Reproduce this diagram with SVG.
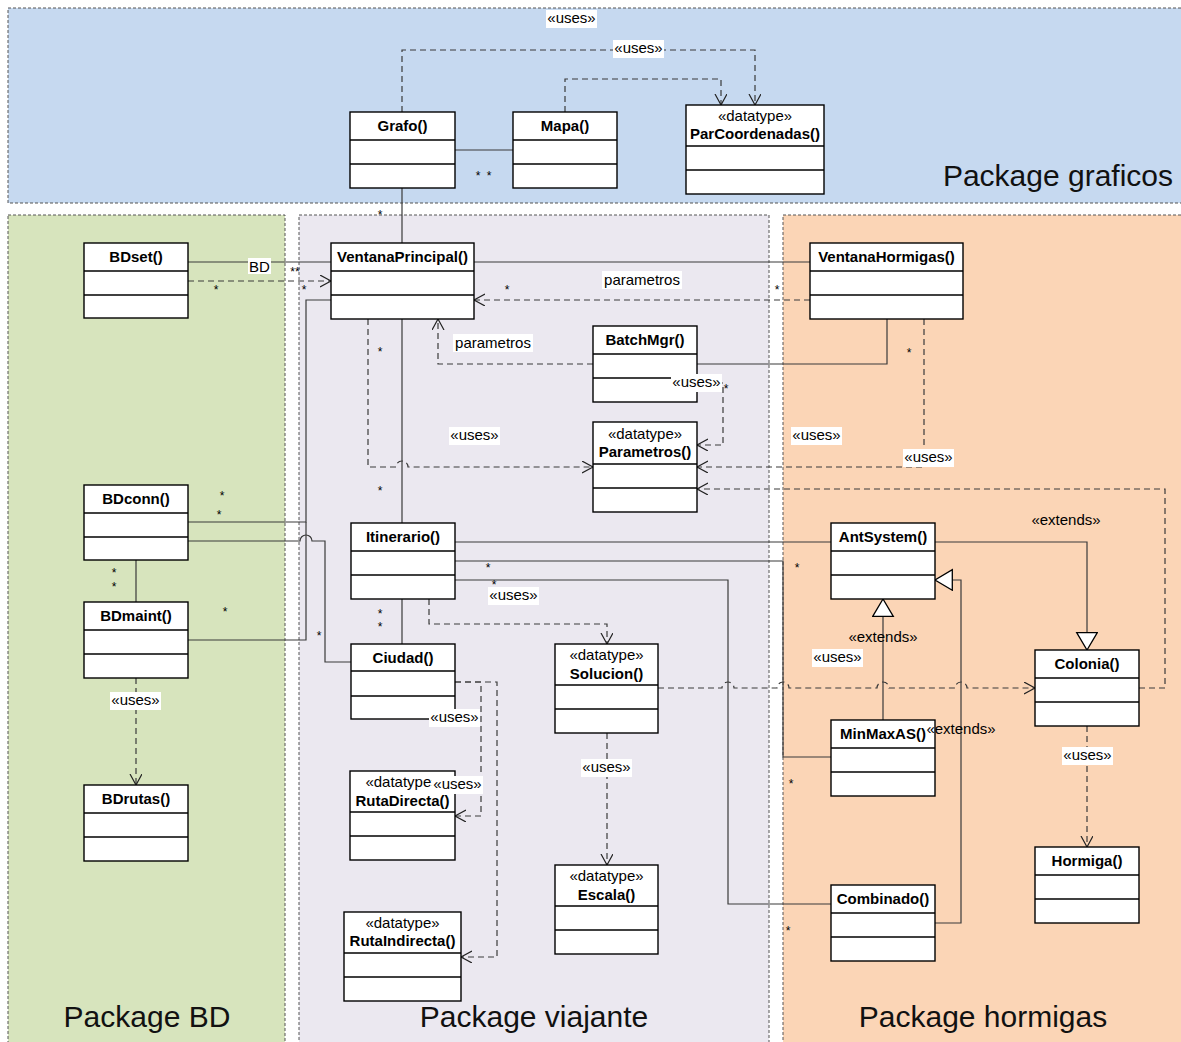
<svg xmlns="http://www.w3.org/2000/svg" width="1181" height="1042" viewBox="0 0 1181 1042">
<style>
.pkg{stroke:#555;stroke-width:1;stroke-dasharray:3,2}
.box{fill:#fff;stroke:#000;stroke-width:1.4}
.cl{stroke:#000;stroke-width:1.4}
.nm{font-family:"Liberation Sans",Arial,sans-serif;font-size:15px;font-weight:bold;text-anchor:middle;fill:#000}
.st{font-family:"Liberation Sans",Arial,sans-serif;font-size:15px;text-anchor:middle;fill:#000}
.lb{font-family:"Liberation Sans",Arial,sans-serif;font-size:15px;text-anchor:middle;fill:#000}
.sr{font-family:"Liberation Sans",Arial,sans-serif;font-size:12px;text-anchor:middle;fill:#000}
.bg{fill:#fff}
.ln{fill:none;stroke:#3a3a3a;stroke-width:1.2}
.dl{fill:none;stroke:#3a3a3a;stroke-width:1.2;stroke-dasharray:6,4}
.pt{font-family:"Liberation Sans",Arial,sans-serif;font-size:30px;text-anchor:middle;fill:#111}
</style>
<defs>
<marker id="open" markerUnits="userSpaceOnUse" markerWidth="14" markerHeight="14" refX="11" refY="6" orient="auto">
<path d="M0,0 L11,6 L0,12" fill="none" stroke="#222" stroke-width="1.2"/>
</marker>
<marker id="tri" markerUnits="userSpaceOnUse" markerWidth="22" markerHeight="24" refX="18" refY="11" orient="auto">
<path d="M0.7,0.7 L18,11 L0.7,21.3 Z" fill="#fff" stroke="#000" stroke-width="1.3"/>
</marker>
</defs>
<rect width="1181" height="1042" fill="#fff"/>
<g id="packages">
<rect class="pkg" x="8" y="8" width="1180" height="195" fill="#c6d9f0"/>
<rect class="pkg" x="8" y="215" width="277" height="835" fill="#d7e4bd"/>
<rect class="pkg" x="299" y="215" width="470" height="835" fill="#ebe8f0"/>
<rect class="pkg" x="783" y="215" width="405" height="835" fill="#fbd5b6"/>
<text class="pt" x="1058" y="186">Package graficos</text>
<text class="pt" x="147" y="1027">Package BD</text>
<text class="pt" x="534" y="1027">Package viajante</text>
<text class="pt" x="983" y="1027">Package hormigas</text>
</g>
<g id="connectors">
<path class="dl" d="M402,112 V50 H755 V105" marker-end="url(#open)"/>
<path class="dl" d="M565,112 V79 H721 V105" marker-end="url(#open)"/>
<path class="ln" d="M455,150 H513"/>
<path class="ln" d="M402,188 V243"/>
<path class="ln" d="M188,262 H331"/>
<path class="dl" d="M188,281 H331" marker-end="url(#open)"/>
<path class="ln" d="M474,262 H810"/>
<path class="dl" d="M810,300 H474" marker-end="url(#open)"/>
<path class="dl" d="M593,364 H438 V319" marker-end="url(#open)"/>
<path class="ln" d="M697,364 H887 V319"/>
<path class="dl" d="M368,319 V467 H396 A6,6 0 0 1 408,467 H593" marker-end="url(#open)"/>
<path class="ln" d="M402,319 V523"/>
<path class="dl" d="M697,383 H723 V445 H697" marker-end="url(#open)"/>
<path class="dl" d="M924,319 V467 H697" marker-end="url(#open)"/>
<path class="dl" d="M1139,688 H1165 V489 H697" marker-end="url(#open)"/>
<path class="ln" d="M935,542 H1087 V650" marker-end="url(#tri)"/>
<path class="dl" d="M658,688 H722 A6,6 0 0 1 734,688 H777 A6,6 0 0 1 789,688 H877 A6,6 0 0 1 889,688 H955 A6,6 0 0 1 967,688 H1035" marker-end="url(#open)"/>
<path class="ln" d="M455,542 H831"/>
<path class="ln" d="M455,561 H783 V757 H831"/>
<path class="ln" d="M455,580 H728 V904 H831"/>
<path class="dl" d="M429,599 V624 H607 V644" marker-end="url(#open)"/>
<path class="ln" d="M402,599 V644"/>
<path class="ln" d="M883,720 V599" marker-end="url(#tri)"/>
<path class="ln" d="M935,923 H961 V580 H935" marker-end="url(#tri)"/>
<path class="dl" d="M1087,726 V847" marker-end="url(#open)"/>
<path class="dl" d="M455,682 H481 V816 H455" marker-end="url(#open)"/>
<path class="dl" d="M455,682 H497 V957 H461" marker-end="url(#open)"/>
<path class="dl" d="M607,733 V865" marker-end="url(#open)"/>
<path class="ln" d="M136,560 V602"/>
<path class="ln" d="M188,522 H306 V300 H331"/>
<path class="ln" d="M188,640 H306 V522"/>
<path class="ln" d="M188,541 H300 A6,6 0 0 1 312,541 H325 V662 H351"/>
<path class="dl" d="M136,678 V785" marker-end="url(#open)"/>
</g>
<g id="grafo"><rect class="box" x="350" y="112" width="105" height="76"/><line class="cl" x1="350" y1="140" x2="455" y2="140"/><line class="cl" x1="350" y1="164" x2="455" y2="164"/><text class="nm" x="402.5" y="131">Grafo()</text></g>
<g id="mapa"><rect class="box" x="513" y="112" width="104" height="76"/><line class="cl" x1="513" y1="140" x2="617" y2="140"/><line class="cl" x1="513" y1="164" x2="617" y2="164"/><text class="nm" x="565" y="131">Mapa()</text></g>
<g id="parcoordenadas"><rect class="box" x="686" y="105" width="138" height="89"/><line class="cl" x1="686" y1="146" x2="824" y2="146"/><line class="cl" x1="686" y1="170" x2="824" y2="170"/><text class="st" x="755" y="121">«datatype»</text><text class="nm" x="755" y="139">ParCoordenadas()</text></g>
<g id="bdset"><rect class="box" x="84" y="243" width="104" height="75"/><line class="cl" x1="84" y1="271" x2="188" y2="271"/><line class="cl" x1="84" y1="295" x2="188" y2="295"/><text class="nm" x="136" y="262">BDset()</text></g>
<g id="ventanaprincipal"><rect class="box" x="331" y="243" width="143" height="76"/><line class="cl" x1="331" y1="271" x2="474" y2="271"/><line class="cl" x1="331" y1="295" x2="474" y2="295"/><text class="nm" x="402.5" y="262">VentanaPrincipal()</text></g>
<g id="ventanahormigas"><rect class="box" x="810" y="243" width="153" height="76"/><line class="cl" x1="810" y1="271" x2="963" y2="271"/><line class="cl" x1="810" y1="295" x2="963" y2="295"/><text class="nm" x="886.5" y="262">VentanaHormigas()</text></g>
<g id="batchmgr"><rect class="box" x="593" y="326" width="104" height="76"/><line class="cl" x1="593" y1="354" x2="697" y2="354"/><line class="cl" x1="593" y1="378" x2="697" y2="378"/><text class="nm" x="645" y="345">BatchMgr()</text></g>
<g id="parametros"><rect class="box" x="593" y="422" width="104" height="90"/><line class="cl" x1="593" y1="464" x2="697" y2="464"/><line class="cl" x1="593" y1="488" x2="697" y2="488"/><text class="st" x="645" y="439">«datatype»</text><text class="nm" x="645" y="457">Parametros()</text></g>
<g id="bdconn"><rect class="box" x="84" y="485" width="104" height="75"/><line class="cl" x1="84" y1="513" x2="188" y2="513"/><line class="cl" x1="84" y1="537" x2="188" y2="537"/><text class="nm" x="136" y="504">BDconn()</text></g>
<g id="bdmaint"><rect class="box" x="84" y="602" width="104" height="76"/><line class="cl" x1="84" y1="630" x2="188" y2="630"/><line class="cl" x1="84" y1="654" x2="188" y2="654"/><text class="nm" x="136" y="621">BDmaint()</text></g>
<g id="bdrutas"><rect class="box" x="84" y="785" width="104" height="76"/><line class="cl" x1="84" y1="813" x2="188" y2="813"/><line class="cl" x1="84" y1="837" x2="188" y2="837"/><text class="nm" x="136" y="804">BDrutas()</text></g>
<g id="itinerario"><rect class="box" x="351" y="523" width="104" height="76"/><line class="cl" x1="351" y1="551" x2="455" y2="551"/><line class="cl" x1="351" y1="575" x2="455" y2="575"/><text class="nm" x="403" y="542">Itinerario()</text></g>
<g id="ciudad"><rect class="box" x="351" y="644" width="104" height="75"/><line class="cl" x1="351" y1="671" x2="455" y2="671"/><line class="cl" x1="351" y1="696" x2="455" y2="696"/><text class="nm" x="403" y="663">Ciudad()</text></g>
<g id="solucion"><rect class="box" x="555" y="644" width="103" height="89"/><line class="cl" x1="555" y1="685" x2="658" y2="685"/><line class="cl" x1="555" y1="709" x2="658" y2="709"/><text class="st" x="606.5" y="660">«datatype»</text><text class="nm" x="606.5" y="679">Solucion()</text></g>
<g id="rutadirecta"><rect class="box" x="350" y="771" width="105" height="89"/><line class="cl" x1="350" y1="812" x2="455" y2="812"/><line class="cl" x1="350" y1="836" x2="455" y2="836"/><text class="st" x="402.5" y="787">«datatype»</text><text class="nm" x="402.5" y="806">RutaDirecta()</text></g>
<g id="rutaindirecta"><rect class="box" x="344" y="912" width="117" height="89"/><line class="cl" x1="344" y1="953" x2="461" y2="953"/><line class="cl" x1="344" y1="977" x2="461" y2="977"/><text class="st" x="402.5" y="928">«datatype»</text><text class="nm" x="402.5" y="946">RutaIndirecta()</text></g>
<g id="escala"><rect class="box" x="555" y="865" width="103" height="89"/><line class="cl" x1="555" y1="906" x2="658" y2="906"/><line class="cl" x1="555" y1="930" x2="658" y2="930"/><text class="st" x="606.5" y="881">«datatype»</text><text class="nm" x="606.5" y="900">Escala()</text></g>
<g id="antsystem"><rect class="box" x="831" y="523" width="104" height="76"/><line class="cl" x1="831" y1="551" x2="935" y2="551"/><line class="cl" x1="831" y1="575" x2="935" y2="575"/><text class="nm" x="883" y="542">AntSystem()</text></g>
<g id="colonia"><rect class="box" x="1035" y="650" width="104" height="76"/><line class="cl" x1="1035" y1="678" x2="1139" y2="678"/><line class="cl" x1="1035" y1="702" x2="1139" y2="702"/><text class="nm" x="1087" y="669">Colonia()</text></g>
<g id="minmaxas"><rect class="box" x="831" y="720" width="104" height="76"/><line class="cl" x1="831" y1="748" x2="935" y2="748"/><line class="cl" x1="831" y1="772" x2="935" y2="772"/><text class="nm" x="883" y="739">MinMaxAS()</text></g>
<g id="combinado"><rect class="box" x="831" y="885" width="104" height="76"/><line class="cl" x1="831" y1="913" x2="935" y2="913"/><line class="cl" x1="831" y1="937" x2="935" y2="937"/><text class="nm" x="883" y="904">Combinado()</text></g>
<g id="hormiga"><rect class="box" x="1035" y="847" width="104" height="76"/><line class="cl" x1="1035" y1="875" x2="1139" y2="875"/><line class="cl" x1="1035" y1="899" x2="1139" y2="899"/><text class="nm" x="1087" y="866">Hormiga()</text></g>
<g id="labels">
<rect class="bg" x="546" y="10" width="51" height="18"/><text class="lb" x="571.5" y="23">«uses»</text>
<rect class="bg" x="613" y="40" width="51" height="18"/><text class="lb" x="638.5" y="53">«uses»</text>
<rect class="bg" x="248" y="258" width="23" height="16"/><text class="lb" x="259.5" y="272">BD</text>
<rect class="bg" x="602" y="271" width="80" height="18"/><text class="lb" x="642" y="285">parametros</text>
<rect class="bg" x="453" y="334" width="80" height="18"/><text class="lb" x="493" y="348">parametros</text>
<rect class="bg" x="671" y="374" width="51" height="18"/><text class="lb" x="696.5" y="387">«uses»</text>
<rect class="bg" x="449" y="427" width="51" height="18"/><text class="lb" x="474.5" y="440">«uses»</text>
<rect class="bg" x="791" y="427" width="51" height="18"/><text class="lb" x="816.5" y="440">«uses»</text>
<rect class="bg" x="903" y="449" width="51" height="18"/><text class="lb" x="928.5" y="462">«uses»</text>
<text class="lb" x="1066" y="525">«extends»</text>
<rect class="bg" x="488" y="587" width="51" height="18"/><text class="lb" x="513.5" y="600">«uses»</text>
<text class="lb" x="883" y="642">«extends»</text>
<rect class="bg" x="812" y="649" width="51" height="18"/><text class="lb" x="837.5" y="662">«uses»</text>
<rect class="bg" x="429" y="709" width="51" height="18"/><text class="lb" x="454.5" y="722">«uses»</text>
<text class="lb" x="961" y="734">«extends»</text>
<rect class="bg" x="1062" y="747" width="51" height="18"/><text class="lb" x="1087.5" y="760">«uses»</text>
<rect class="bg" x="581" y="759" width="51" height="18"/><text class="lb" x="606.5" y="772">«uses»</text>
<rect class="bg" x="432" y="776" width="51" height="18"/><text class="lb" x="457.5" y="789">«uses»</text>
<rect class="bg" x="110" y="692" width="51" height="18"/><text class="lb" x="135.5" y="705">«uses»</text>
<text class="sr" x="478" y="180">*</text><text class="sr" x="489" y="180">*</text>
<text class="sr" x="380" y="219">*</text>
<text class="sr" x="295" y="276">**</text>
<text class="sr" x="216" y="294">*</text>
<text class="sr" x="304" y="294">*</text>
<text class="sr" x="507" y="294">*</text>
<text class="sr" x="777" y="294">*</text>
<text class="sr" x="380" y="356">*</text>
<text class="sr" x="909" y="357">*</text>
<text class="sr" x="726" y="393">*</text>
<text class="sr" x="380" y="495">*</text>
<text class="sr" x="222" y="500">*</text>
<text class="sr" x="219" y="519">*</text>
<text class="sr" x="114" y="577">*</text>
<text class="sr" x="114" y="591">*</text>
<text class="sr" x="225" y="616">*</text>
<text class="sr" x="319" y="640">*</text>
<text class="sr" x="488" y="572">*</text>
<text class="sr" x="494" y="589">*</text>
<text class="sr" x="797" y="572">*</text>
<text class="sr" x="380" y="618">*</text>
<text class="sr" x="380" y="631">*</text>
<text class="sr" x="791" y="788">*</text>
<text class="sr" x="788" y="935">*</text>
</g>
</svg>
